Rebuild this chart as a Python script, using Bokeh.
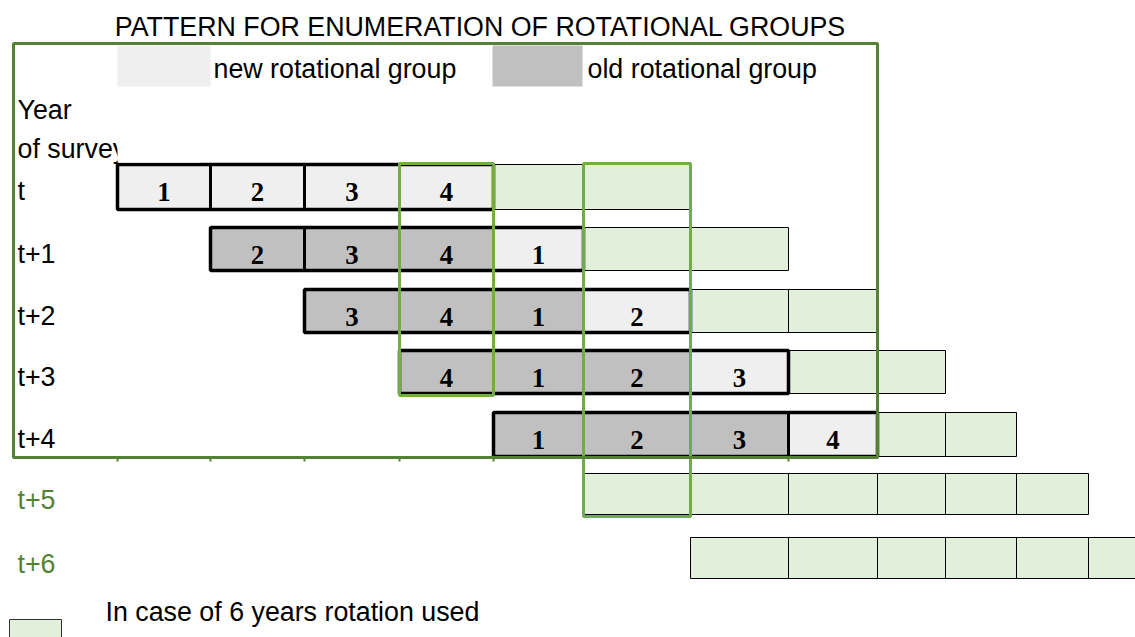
from bokeh.plotting import figure
from bokeh.models import Range1d
from bokeh.core.properties import value
from bokeh.embed import file_html
from bokeh.resources import INLINE

# ---------------- data ----------------
title_text = "PATTERN FOR ENUMERATION OF ROTATIONAL GROUPS"
legend_labels = ["new rotational group", "old rotational group"]
year_header = ["Year", "of survey"]
years = ["t", "t+1", "t+2", "t+3", "t+4", "t+5", "t+6"]
group_numbers = [[1, 2, 3, 4], [2, 3, 4, 1], [3, 4, 1, 2], [4, 1, 2, 3], [1, 2, 3, 4]]
group_start = [0, 1, 2, 3, 4]
group_status = [["new", "new", "new", "new"],
                ["old", "old", "old", "new"],
                ["old", "old", "old", "new"],
                ["old", "old", "old", "new"],
                ["old", "old", "old", "new"]]
ext_start = [4, 5, 6, 7, 8, 5, 6]     # 6-year rotation cells: first column per row
ext_count = [2, 2, 2, 2, 2, 6, 6]     # number of such cells per row
highlight_cols = [3, 5]
highlight_last_row = [3, 5]
note_text = "In case of 6 years rotation used"

# ---------------- layout / style ----------------
COL_EDGES = [117, 210, 304, 399, 493, 583, 690, 788, 877, 945, 1016, 1088, 1160]
ROW_TOP = [164, 227, 289, 350, 412, 473, 537]
ROW_BOT = [209, 270, 332, 393, 456, 514, 578]
FILL = {"new": "#EFEFEF", "old": "#C0C0C0"}
EXT_FILL = "#E2EFDA"
BRIGHT_GREEN = "#70AD47"
DARK_GREEN = "#548235"
SANS = value("Liberation Sans")
SERIF = value("Liberation Serif")
FS = "26.8px"
DY = -9   # baseline correction for text placement

p = figure(width=1135, height=637, output_backend="svg", toolbar_location=None,
           x_range=Range1d(0, 1135), y_range=Range1d(637, 0), min_border=0)
p.axis.visible = False
p.grid.visible = False
p.outline_line_color = None
p.background_fill_color = "white"
p.border_fill_color = "white"

# 6-year rotation (extension) cells
el, er, et, eb = [], [], [], []
for r, (s, n) in enumerate(zip(ext_start, ext_count)):
    for c in range(s, s + n):
        el.append(COL_EDGES[c]); er.append(COL_EDGES[c + 1])
        et.append(ROW_TOP[r]); eb.append(ROW_BOT[r])
p.quad(left=el, right=er, top=et, bottom=eb, fill_color=EXT_FILL,
       line_color="black", line_width=1)

# group cells
gl, gr, gt, gb, gc, gx, gy, gtxt = [], [], [], [], [], [], [], []
for r, (nums, s, st) in enumerate(zip(group_numbers, group_start, group_status)):
    for k, (num, stat) in enumerate(zip(nums, st)):
        c = s + k
        gl.append(COL_EDGES[c]); gr.append(COL_EDGES[c + 1])
        gt.append(ROW_TOP[r]); gb.append(ROW_BOT[r])
        gc.append(FILL[stat])
        gx.append((COL_EDGES[c] + COL_EDGES[c + 1]) / 2)
        gy.append(ROW_TOP[r] + 36 + DY)
        gtxt.append(str(num))
p.quad(left=gl, right=gr, top=gt, bottom=gb, fill_color=gc, line_color=None)

# internal thick separators
sx0, sy0, sx1, sy1 = [], [], [], []
for r, s in enumerate(group_start):
    for k in range(1, 4):
        x = COL_EDGES[s + k]
        sx0.append(x); sx1.append(x); sy0.append(ROW_TOP[r]); sy1.append(ROW_BOT[r])
p.segment(x0=sx0, y0=sy0, x1=sx1, y1=sy1, line_color="black", line_width=3)

# group outlines
p.quad(left=[COL_EDGES[s] for s in group_start],
       right=[COL_EDGES[s + 4] for s in group_start],
       top=ROW_TOP[:5], bottom=ROW_BOT[:5],
       fill_color=None, line_color="black", line_width=3.5)

# highlight rectangles
p.quad(left=[COL_EDGES[c] for c in highlight_cols],
       right=[COL_EDGES[c + 1] for c in highlight_cols],
       top=[ROW_TOP[0] - 1 for _ in highlight_cols],
       bottom=[ROW_BOT[r] + 2 for r in highlight_last_row],
       fill_color=None, line_color=BRIGHT_GREEN, line_width=3)

# outer dark green frame
p.quad(left=[13], right=[877], top=[43], bottom=[457], fill_color=None,
       line_color=DARK_GREEN, line_width=3)
tick_cols = [0, 1, 2, 3, 4, 7]
p.segment(x0=[COL_EDGES[c] for c in tick_cols], y0=[457] * len(tick_cols),
          x1=[COL_EDGES[c] for c in tick_cols], y1=[461] * len(tick_cols),
          line_color=DARK_GREEN, line_width=2)

# numbers in cells
p.text(x=gx, y=gy, text=gtxt, text_font=SERIF, text_font_style="bold",
       text_font_size=FS, text_align="center", text_baseline="alphabetic",
       text_color="black")

# title
p.text(x=[480], y=[35 + DY], text=[title_text], text_font=SANS, text_font_size=FS,
       text_align="center", text_baseline="alphabetic", text_color="black")

# legend swatches + labels
p.quad(left=[117, 492], right=[210, 582], top=[45, 45], bottom=[86, 86],
       fill_color=[FILL["new"], FILL["old"]], line_color=None)
p.text(x=[213, 587], y=[77 + DY, 77 + DY], text=legend_labels, text_font=SANS,
       text_font_size=FS, text_baseline="alphabetic", text_color="black")

# header and row labels
p.text(x=[17, 17], y=[118 + DY, 157 + DY], text=year_header, text_font=SANS,
       text_font_size=FS, text_baseline="alphabetic", text_color="black")
# clip "of survey" at the first column, as in the sheet
p.quad(left=[117], right=[200], top=[128], bottom=[162], fill_color="white",
       line_color=None)
label_colors = ["black"] * 5 + [DARK_GREEN] * 2
p.text(x=[17] * len(years), y=[t + 35 + DY for t in ROW_TOP], text=years,
       text_font=SANS, text_font_size=FS, text_baseline="alphabetic",
       text_color=label_colors)

# bottom note
p.quad(left=[9], right=[61], top=[619], bottom=[645], fill_color=EXT_FILL,
       line_color="#333333", line_width=1)
p.text(x=[105], y=[620 + DY], text=[note_text], text_font=SANS, text_font_size=FS,
       text_baseline="alphabetic", text_color="black")

open("out.html", "w").write(file_html(p, INLINE))
